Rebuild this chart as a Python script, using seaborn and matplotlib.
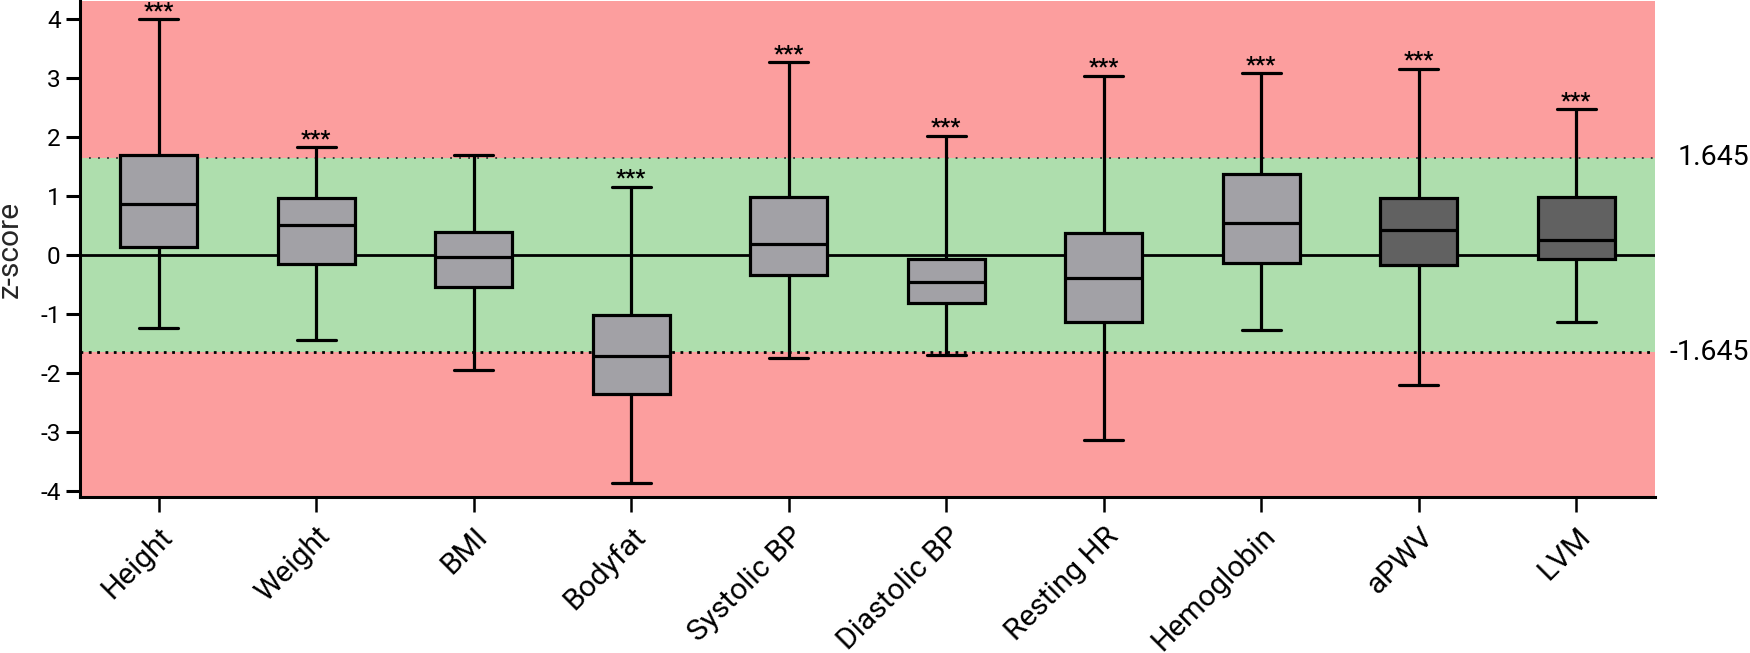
import numpy as np
import pandas as pd
import matplotlib
matplotlib.use("Agg")
import matplotlib.pyplot as plt
import matplotlib.transforms as mtransforms
import seaborn as sns

# ---------------- data (five-number summaries) ----------------
categories = ["Height", "Weight", "BMI", "Bodyfat", "Systolic BP",
              "Diastolic BP", "Resting HR", "Hemoglobin", "aPWV", "LVM"]
whisker_low = [-1.24, -1.44, -1.94, -3.87, -1.74, -1.70, -3.13, -1.27, -2.21, -1.14]
q1 = [0.14, -0.15, -0.54, -2.35, -0.33, -0.82, -1.14, -0.13, -0.17, -0.06]
median = [0.87, 0.51, -0.03, -1.71, 0.18, -0.45, -0.39, 0.55, 0.43, 0.26]
q3 = [1.69, 0.97, 0.39, -1.01, 0.98, -0.06, 0.38, 1.38, 0.97, 0.98]
whisker_high = [4.00, 1.83, 1.70, 1.16, 3.27, 2.02, 3.04, 3.08, 3.16, 2.47]
significance = ["***", "***", "", "***", "***", "***", "***", "***", "***", "***"]
box_colors = ["#A2A1A6"] * 8 + ["#616161"] * 2
yticks = [-4, -3, -2, -1, 0, 1, 2, 3, 4]
threshold = 1.645
threshold_labels = ["1.645", "-1.645"]

# long-form table: each category's five-number summary
rows = []
for c, lo, a, m, b, hi in zip(categories, whisker_low, q1, median, q3, whisker_high):
    for v in (lo, a, m, b, hi):
        rows.append({"category": c, "value": v})
df = pd.DataFrame(rows)

# ---------------- style ----------------
sns.set_style("ticks")
plt.rcParams["font.family"] = ["Roboto", "DejaVu Sans"]
plt.rcParams["axes.unicode_minus"] = False

W, H = 1750, 653
fig = plt.figure(figsize=(W / 100, H / 100), dpi=100)
ax = fig.add_axes([80 / W, (H - 497) / H, 1575 / W, 496 / H])

red = "#FC9E9E"
green = "#AEDEAD"
ax.axhspan(-10, 10, color=red, zorder=0, lw=0)
ax.axhspan(-threshold, threshold, color=green, zorder=0.1, lw=0)
ax.axhline(threshold, color="#333333", lw=1.3, ls=(0, (1, 4)), zorder=0.5)
ax.axhline(-threshold, color="black", lw=2.0, ls=(0, (1, 2)), zorder=0.5)
ax.axhline(0, color="black", lw=2.0, zorder=1.5)

sns.boxplot(data=df, x="category", y="value", hue="category",
            order=categories, hue_order=categories, palette=box_colors,
            legend=False, dodge=False, whis=(0, 100), width=0.49,
            linewidth=2.3, linecolor="black", saturation=1, ax=ax)

# significance stars
for i, (s, hi) in enumerate(zip(significance, whisker_high)):
    if s:
        ax.annotate(s, xy=(i, hi), xytext=(0, 1.5), textcoords="offset points",
                    ha="center", va="baseline", fontsize=16, fontweight="bold",
                    color="black", zorder=5)

ax.set_xlim(-0.5, len(categories) - 0.5)
ax.set_ylim(-4.1, 4.305)
ax.set_yticks(yticks)
ax.set_yticklabels([str(t) for t in yticks])
ax.set_xticks(range(len(categories)))
ax.set_xticklabels(categories, rotation=45, ha="right", va="top",
                   rotation_mode="anchor")
ax.set_xlabel("")
ax.set_ylabel("z-score", fontsize=21.5)
ax.yaxis.set_label_coords(-0.0355, 0.5)

for side in ("top", "right"):
    ax.spines[side].set_visible(False)
for side in ("left", "bottom"):
    ax.spines[side].set_linewidth(2.2)
    ax.spines[side].set_color("black")
ax.tick_params(axis="y", length=10, width=2.2, pad=4, labelsize=17.5, colors="black")
ax.tick_params(axis="x", length=10.5, width=1.8, pad=7.5, labelsize=21.5, colors="black")

# right-side threshold labels
trans = mtransforms.blended_transform_factory(fig.transFigure, ax.transData)
for val, lab in zip((threshold, -threshold), threshold_labels):
    ax.text(0.9995, val, lab, transform=trans, ha="right", va="center",
            fontsize=20.5, color="black", clip_on=False)

fig.savefig("out.png", dpi=100)
